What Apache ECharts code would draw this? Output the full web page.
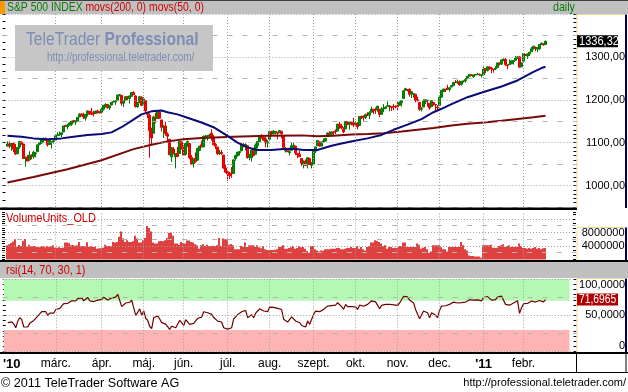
<!DOCTYPE html>
<html>
<head>
<meta charset="utf-8">
<script src="https://cdn.jsdelivr.net/npm/echarts@6.0.0/dist/echarts.min.js"></script>
<style>
html,body{margin:0;padding:0;background:#fff;overflow:hidden}
#chart{width:628px;height:392px}
</style>
</head>
<body>
<div id="chart"></div>
<script>
// ---------------- DATA ----------------
// daily candles [open, close, low, high], 25 Jan 2010 .. 16 Feb 2011
const candles = [
[1092,1097,1091,1103],[1097,1092,1087,1103],[1092,1098,1081,1099],[1098,1085,1078,1100],[1087,1074,1071,1097],
[1074,1089,1074,1090],[1090,1103,1086,1104],[1101,1097,1095,1103],[1097,1063,1063,1097],[1064,1066,1044,1067],
[1066,1057,1056,1071],[1060,1071,1058,1080],[1069,1068,1061,1073],[1067,1078,1063,1081],[1075,1076,1066,1078],
[1079,1095,1079,1095],[1096,1100,1094,1100],[1099,1107,1097,1108],[1105,1109,1100,1112],[1110,1108,1104,1112],
[1107,1095,1091,1108],[1096,1105,1095,1107],[1101,1103,1086,1103],[1103,1104,1098,1108],
[1106,1116,1106,1116],[1117,1118,1115,1124],[1118,1119,1116,1126],[1119,1123,1113,1123],[1125,1139,1125,1139],
[1140,1139,1137,1142],[1137,1140,1131,1144],[1141,1146,1140,1148],[1143,1150,1139,1150],[1151,1150,1146,1153],
[1148,1151,1141,1151],[1151,1159,1148,1160],[1160,1166,1160,1169],[1167,1166,1161,1168],[1166,1160,1155,1170],
[1157,1166,1151,1167],[1166,1174,1161,1175],[1173,1168,1165,1174],[1170,1166,1165,1181],[1168,1167,1161,1174],
[1168,1173,1167,1175],[1174,1173,1168,1177],[1172,1169,1169,1174],
[1171,1178,1170,1181],[1178,1187,1175,1188],[1186,1189,1182,1192],[1189,1182,1179,1190],[1181,1186,1176,1188],
[1188,1194,1187,1194],[1195,1196,1194,1199],[1195,1197,1188,1199],[1199,1211,1199,1211],[1210,1212,1208,1213],
[1210,1192,1186,1211],[1192,1198,1183,1198],[1199,1207,1199,1208],[1207,1206,1199,1208],[1203,1209,1191,1210],
[1208,1217,1207,1217],[1217,1212,1211,1220],[1209,1184,1182,1211],[1184,1191,1181,1195],[1193,1207,1193,1209],
[1206,1187,1186,1208],
[1188,1202,1188,1206],[1198,1174,1168,1198],[1170,1166,1157,1172],[1164,1128,1065,1168],[1127,1111,1095,1135],
[1122,1160,1122,1163],[1157,1156,1145,1170],[1156,1172,1156,1172],[1171,1157,1156,1174],[1153,1136,1126,1153],
[1136,1137,1111,1141],[1139,1121,1116,1149],[1120,1115,1100,1124],[1108,1072,1071,1108],[1067,1088,1055,1090],
[1085,1074,1073,1090],[1067,1074,1040,1075],[1075,1068,1066,1090],[1075,1103,1075,1104],[1102,1089,1084,1102],
[1087,1071,1069,1094],[1073,1098,1070,1098],[1098,1103,1090,1105],[1098,1065,1061,1098],[1066,1050,1050,1071],
[1051,1062,1042,1063],[1063,1056,1053,1077],[1059,1087,1059,1087],[1082,1092,1080,1092],[1095,1090,1089,1105],
[1090,1115,1090,1116],[1113,1115,1108,1118],[1115,1116,1105,1118],[1116,1118,1113,1121],[1122,1113,1105,1131],
[1113,1095,1094,1118],[1096,1092,1085,1099],[1090,1074,1071,1090],[1075,1077,1071,1083],[1077,1075,1071,1083],
[1071,1041,1039,1071],[1041,1031,1029,1049],
[1032,1027,1011,1034],[1028,1023,1015,1032],[1029,1028,1018,1043],[1028,1060,1027,1061],[1063,1070,1058,1072],
[1070,1078,1067,1078],[1077,1079,1070,1081],[1081,1095,1081,1099],[1096,1095,1089,1099],[1094,1096,1082,1098],
[1093,1065,1063,1093],[1066,1071,1059,1074],[1065,1083,1056,1084],[1084,1070,1068,1088],[1073,1094,1073,1098],
[1093,1103,1087,1103],[1103,1115,1101,1115],[1117,1114,1109,1120],[1112,1106,1104,1114],[1109,1102,1089,1115],
[1099,1102,1088,1106],
[1108,1126,1108,1128],[1126,1120,1116,1126],[1121,1127,1119,1129],[1124,1126,1119,1126],[1124,1122,1108,1124],
[1123,1128,1123,1130],[1126,1121,1110,1128],[1116,1089,1089,1116],[1081,1084,1077,1090],[1082,1079,1078,1086],
[1077,1079,1070,1082],[1082,1093,1082,1101],[1093,1094,1085,1100],[1092,1076,1071,1093],[1075,1072,1064,1075],
[1073,1067,1067,1081],[1063,1052,1046,1063],[1049,1055,1040,1059],[1057,1047,1046,1061],[1049,1065,1040,1066],
[1063,1049,1049,1065],[1047,1049,1040,1055],
[1050,1080,1050,1082],[1080,1090,1076,1090],[1093,1105,1093,1105],[1102,1092,1091,1102],[1092,1099,1092,1103],
[1102,1104,1101,1110],[1104,1110,1102,1111],[1114,1122,1114,1124],[1122,1121,1115,1127],[1119,1125,1115,1126],
[1125,1124,1118,1126],[1127,1126,1120,1131],[1127,1143,1127,1144],[1143,1140,1132,1149],[1139,1134,1131,1144],
[1131,1125,1122,1136],[1132,1149,1132,1149],[1149,1142,1142,1150],[1143,1148,1130,1150],[1147,1145,1140,1149],
[1146,1141,1136,1158],
[1144,1146,1138,1150],[1145,1137,1131,1148],[1140,1161,1140,1162],[1161,1160,1155,1163],[1162,1158,1151,1163],
[1159,1165,1155,1168],[1166,1165,1162,1171],[1164,1170,1155,1173],[1171,1178,1171,1184],[1178,1174,1167,1178],
[1177,1176,1167,1182],[1177,1185,1172,1186],[1178,1166,1160,1178],[1166,1178,1166,1183],[1179,1180,1171,1190],
[1180,1183,1178,1184],[1185,1186,1184,1196],[1184,1186,1173,1188],[1184,1182,1174,1185],[1185,1184,1176,1190],
[1184,1183,1180,1187],
[1186,1184,1175,1196],[1187,1194,1187,1196],[1193,1198,1184,1199],[1203,1221,1203,1222],[1222,1226,1221,1228],
[1224,1223,1219,1225],[1224,1213,1207,1227],[1214,1219,1204,1219],[1213,1214,1205,1215],[1213,1199,1194,1214],
[1200,1198,1196,1207],[1194,1178,1174,1194],[1178,1179,1173,1183],[1183,1197,1183,1201],[1196,1200,1190,1200],
[1199,1198,1184,1199],[1192,1181,1177,1192],[1184,1198,1184,1198],[1194,1189,1186,1194],[1189,1188,1174,1190],
[1183,1181,1174,1188],
[1187,1206,1187,1208],[1206,1222,1206,1222],[1219,1225,1218,1226],[1224,1223,1218,1226],[1227,1224,1223,1235],
[1224,1228,1219,1229],[1230,1233,1229,1234],[1233,1240,1232,1241],[1241,1240,1240,1246],[1241,1242,1237,1247],
[1241,1235,1233,1245],[1236,1243,1233,1244],[1243,1244,1240,1245],[1245,1247,1240,1251],[1249,1255,1249,1255],
[1255,1259,1255,1260],[1258,1257,1255,1259],[1254,1258,1251,1258],[1258,1259,1257,1260],[1259,1260,1259,1263],
[1259,1258,1256,1261],[1257,1258,1252,1260],
[1258,1272,1258,1277],[1273,1270,1262,1274],[1268,1277,1266,1277],[1276,1274,1270,1278],[1274,1272,1262,1277],
[1271,1270,1263,1272],[1272,1274,1269,1278],[1275,1286,1275,1286],[1286,1284,1280,1287],[1283,1293,1281,1293],
[1293,1295,1290,1296],[1294,1282,1279,1297],[1281,1280,1271,1282],[1282,1283,1282,1294],[1284,1291,1283,1291],
[1289,1291,1282,1292],[1292,1297,1291,1302],[1297,1300,1295,1301],[1300,1276,1276,1302],[1277,1286,1276,1287],
[1290,1308,1290,1308],[1305,1304,1302,1307],[1302,1307,1295,1308],[1307,1311,1302,1311],[1312,1319,1312,1323],
[1319,1325,1317,1325],[1322,1321,1313,1324],[1318,1322,1311,1322],[1319,1329,1316,1330],[1329,1332,1328,1333],
[1330,1328,1326,1331],[1329,1336.32,1328,1338]
];
// volume, millions of units, one value per trading day
const volumes = [
4.2,4.5,4.9,5.3,6.0,3.8,4.3,4.0,5.5,6.1,3.8,4.4,3.9,4.0,4.0,3.7,3.6,3.8,3.9,3.6,4.0,3.8,3.9,4.2,
3.5,3.5,3.6,3.4,3.5,5.0,5.0,4.8,4.2,4.3,4.1,4.2,5.2,4.0,4.0,3.9,5.1,3.8,3.9,3.7,3.8,3.2,3.3,
3.3,3.5,4.4,4.0,4.0,3.9,5.2,5.0,5.2,6.7,8.3,6.3,5.2,5.7,5.2,5.2,5.4,7.0,6.2,5.0,5.0,
5.7,6.4,9.9,9.3,8.3,5.0,4.7,4.7,5.4,5.5,5.4,5.7,6.4,7.9,7.9,7.0,4.7,4.7,4.4,5.2,
4.9,4.7,5.6,5.6,5.2,5.0,4.5,4.2,3.2,4.2,4.5,4.0,4.4,4.0,4.0,4.1,4.0,4.2,6.4,4.0,6.2,6.0,
6.0,4.4,4.6,4.2,3.0,3.0,3.0,4.0,3.7,5.0,3.7,4.2,4.2,4.2,3.7,4.2,3.6,3.3,4.0,3.0,2.8,
2.8,2.8,2.8,2.9,3.0,3.7,3.7,4.2,3.2,3.2,3.4,3.6,4.0,3.2,3.4,4.0,3.6,3.7,3.2,2.5,2.0,4.0,
4.0,3.0,2.7,2.4,2.7,2.6,3.0,3.0,3.0,3.2,3.2,3.2,3.4,3.4,3.0,3.0,3.2,3.4,3.4,3.7,3.4,
3.4,4.0,3.2,3.7,3.0,2.7,3.7,4.0,5.0,5.0,5.7,5.5,5.2,4.7,4.0,4.2,3.2,3.7,3.7,3.4,3.5,
3.4,4.0,4.0,5.0,5.0,3.7,3.7,3.7,3.8,3.7,4.7,4.4,3.2,3.5,3.7,3.0,2.0,2.4,4.2,4.2,4.2,
4.2,3.6,3.0,3.0,2.4,3.7,3.7,3.7,3.7,3.7,3.7,5.2,4.2,3.0,2.7,1.2,1.0,1.0,0.9,0.9,0.9,0.5,
4.2,4.3,4.2,4.2,4.4,3.5,3.4,3.5,4.0,4.2,4.5,3.7,4.0,4.2,3.7,3.7,3.7,3.8,4.7,4.0,
3.4,3.4,3.2,3.4,3.2,3.4,3.7,3.2,3.4,3.0,3.3,3.4
];
// rsi(14), one value per trading day
const rsiValues = [
40,38.5,41,38,33,42,47,44,34,35,
34,39,38,43,42,49,52,55,56,55,
50,53,52,53,58,59,59.5,61,66,66,
66.5,68,70,69.5,70,73,75,74,70,72,
74.5,70,68.5,69,71,71,69,72,75,75.5,
71,72,74,74.5,75,79,79,62,64,67,
67,68,71,69,50,54,59,50,56,46,
43,35,31.7,47,46,49,45,40,40,38,
37,30.8,35,33,33,32,43,40,36,44,
45,37.6,35,39,37,46,48,47.5,55,54.5,
53.6,54,51.4,47,45,42,41.5,40.8,33,31.7,
31,30.5,33,45,48,51,51.4,55,55,56.9,
46.8,48.2,51,46.8,53,56,59,58,56,55,
55,61.4,59,61,60.5,59.6,61,58,44.5,42,
40.8,41,48,49,42.2,40.5,39.9,36,37,34,
42.2,37.6,38,51.4,55.9,58.2,55,57,58.2,60,
62.8,62.5,63.5,63,64,67.4,65,62,58.2,65.1,
62,63.5,62,60.5,61.5,58.2,64,63.5,62.5,65.1,
65.1,66.5,70,68.3,68.5,71,59.1,63.7,64.5,65.1,
65.5,65.3,64,64.5,63.7,63.7,67,69.7,76,77.4,
75.6,71,70.5,67,58.2,55.5,45.4,46,55.9,55,
53.6,46.8,53.6,51,50,46.8,57,62.8,63.7,63.2,
63.5,65.1,66.5,68.3,68.3,67,65.1,67.4,68,68.3,
70.6,71.5,70.6,71,71,71.3,70.2,70,74.5,73.5,
75.7,74.3,71,70.5,71.5,75,73.5,76.5,77.4,65.1,
63,64,66.5,67,69.7,70.2,52.7,60.5,66,65.1,
66.3,67.4,69.7,70.5,68.3,67.4,70.5,71,68.5,71.6965
];
// moving averages: [trading-day index, value]
const ma50Points = [[0,1116],[7,1114],[13,1110],[20,1108],[27,1110],[33,1114],[40,1118],[47,1120],[52,1124],[57,1136],[62,1151],[67,1166],[72,1173],[77,1175],[80,1171],[85,1166],[90,1158],[97,1147],[103,1136],[110,1116],[115,1100],[120,1089],[125,1083],[132,1083],[138,1085],[143,1086],[148,1083],[152,1083],[155,1083],[157,1086],[162,1093],[167,1098],[173,1104],[180,1110],[187,1118],[193,1130],[200,1142],[207,1155],[213,1171],[217,1179],[222,1190],[230,1206],[238,1218],[247,1231],[255,1245],[263,1265],[267,1274],[269,1277]];
const ma200Points = [[0,1007],[13,1020],[30,1038],[47,1059],[63,1085],[72,1095],[80,1103],[88,1108],[97,1111],[113,1114],[130,1116],[147,1117],[155,1115],[163,1116],[172,1119],[180,1120],[188,1122],[197,1126],[205,1130],[213,1134],[222,1140],[230,1144],[238,1147],[247,1151],[255,1155],[263,1159],[269,1163]];
const lastClose = 1336.32;
const lastRsi = 71.6965;
// month axis
const monthGridDays = [24,47,68,88,110,131,153,174,195,216,238,258];
const xLabelDays = [2,24,47,68,88,110,131,153,174,195,216,238,258];
const xLabelTexts = ["'10","márc.","ápr.","máj.","jún.","júl.","aug.","szept.","okt.","nov.","dec.","'11","febr."];
const yearLabels = ["'10","'11"];
// tick values
const priceMajor = [1000,1100,1200,1300,1400];
const priceMinor = [950,1050,1150,1250,1350];
const priceLabels = [1000,1100,1200,1300];
const volMajor = [4,8,12];
const volMinor = [2,6,10];
const volLabels = [4,8];
const rsiMajor = [0,50,100];
const rsiMinor = [25,75];
const rsiUpper = 70, rsiLower = 30;

// ---------------- CHART ----------------
const FF = "'Liberation Sans'";
const FS = 11;

const PAD_L = 2, PAD_R = 15;
const NCAT = PAD_L + candles.length + PAD_R;
const cats = []; for (let k=0;k<NCAT;k++) cats.push(String(k));
const cx = i => i + PAD_L;

const DOT = '#a0a0a0', DOT_T = [1,2], DASH = '#b4b4b4', DASH_T = [5,10];
const vLines = monthGridDays.map(d => ({xAxis: cx(d), lineStyle:{color:DOT,type:DOT_T,width:1}}));
function hLines(major, minor){
  return major.map(v=>({yAxis:v, lineStyle:{color:DOT,type:DOT_T,width:1}}))
    .concat(minor.map(v=>({yAxis:v, lineStyle:{color:DASH,type:DASH_T,width:1}})));
}
function gridSeries(xi, yi, major, minor, extra){
  return Object.assign({
    type:'line', xAxisIndex:xi, yAxisIndex:yi, data:[], z:1, silent:true,
    markLine:{silent:true, symbol:['none','none'], label:{show:false}, animation:false,
      data: vLines.concat(hLines(major, minor))}
  }, extra||{});
}
const xLabelMap = {}; xLabelDays.forEach((d,k)=>{ xLabelMap[cx(d)] = xLabelTexts[k]; });

function xAxis(gi, showLabels){
  return {type:'category', gridIndex:gi, data:cats, boundaryGap:true,
    axisLine:{show:false}, axisTick:{show:false}, splitLine:{show:false},
    axisLabel: showLabels ? {
      show:true, interval:(idx)=> xLabelMap[idx]!==undefined, margin:6,
      formatter:(v, idx)=>{ const t = xLabelMap[idx]; if(t===undefined) return ''; return yearLabels.includes(t) ? '{b|'+t+'}' : t; },
      color:'#000', fontFamily:FF, fontSize:12,
      rich:{b:{fontWeight:'bold', fontFamily:FF, fontSize:13, color:'#000'}}
    } : {show:false}
  };
}
function rightAxis(gi, min, max, interval, minorSplit, fmt, extraLabel){
  return {type:'value', gridIndex:gi, position:'right', min, max, interval,
    axisLine:{show:false}, splitLine:{show:false},
    axisTick:{show:true, inside:true, length:3, lineStyle:{color:'#000'}},
    minorTick:{show:true, splitNumber:minorSplit, length:3, lineStyle:{color:'#000'}},
    axisLabel:Object.assign({show:true, inside:false, margin:48.5, align:'right', color:'#000',
      fontFamily:FF, fontSize:FS, formatter:fmt}, extraLabel||{})
  };
}
function leftAxis(gi, min, max, interval, minorSplit){
  return {type:'value', gridIndex:gi, position:'left', min, max, interval,
    axisLine:{show:false}, splitLine:{show:false}, axisLabel:{show:false},
    axisTick:{show:true, inside:true, length:3, lineStyle:{color:'#000'}},
    minorTick:{show:true, splitNumber:minorSplit, length:3, lineStyle:{color:'#000'}}
  };
}
const fmtPrice = v => priceLabels.includes(v) ? v.toFixed(2).replace('.', ',') : '';
const fmtVol = v => volLabels.includes(v) ? String(v*1000000) : '';
const fmtRsi = v => v===0 ? '0' : v.toFixed(4).replace('.', ',');

const candleData = candles.map((d,i)=>[cx(i), d[0], d[1], d[2], d[3]]);
const volData = volumes.map((v,i)=>[cx(i), v]);
const rsiData = rsiValues.map((v,i)=>[cx(i), v]);
const ma50Data = ma50Points.map(p=>[cx(p[0]), p[1]]);
const ma200Data = ma200Points.map(p=>[cx(p[0]), p[1]]);

const chart = echarts.init(document.getElementById('chart'), null, {renderer:'canvas'});
const W = 628;
const GL = 2.5;
chart.setOption({
  animation:false,
  backgroundColor:'#ffffff',
  textStyle:{fontFamily:FF},
  grid:[
    {left:GL, top:14, width:574, height:193},
    {left:2, top:212.2, width:574, height:47.3},
    {left:GL, top:279, width:574, height:72.7}
  ],
  xAxis:[xAxis(0,false), xAxis(1,false), xAxis(2,true)],
  yAxis:[
    rightAxis(0, 950, 1400, 50, 5, fmtPrice),
    leftAxis(0, 950, 1400, 50, 3),
    rightAxis(1, 0, 14, 4, 3, fmtVol),
    leftAxis(1, 0, 14, 2, 3),
    rightAxis(2, 0, 100, 50, 7, fmtRsi, {verticalAlignMaxLabel:'top', verticalAlignMinLabel:'bottom'}),
    leftAxis(2, 0, 100, 50, 7)
  ],
  series:[
    gridSeries(0, 0, priceMajor, priceMinor),
    {type:'candlestick', xAxisIndex:0, yAxisIndex:0, data:candleData, z:3,
      encode:{x:0, y:[1,2,3,4]}, barWidth:2,
      itemStyle:{color:'#009000', color0:'#ff0000', borderColor:'#007800', borderColor0:'#e00000', borderWidth:1}
    },
    {type:'line', xAxisIndex:0, yAxisIndex:0, data:ma200Data, z:4, symbol:'none',
      lineStyle:{color:'#780a0a', width:2}},
    {type:'line', xAxisIndex:0, yAxisIndex:0, data:ma50Data, z:5, symbol:'none',
      lineStyle:{color:'#0a0a78', width:2}},
    gridSeries(1, 2, volMajor, volMinor),
    {type:'bar', xAxisIndex:1, yAxisIndex:2, data:volData, barWidth:1.5, z:3, large:false,
      itemStyle:{color:'#d40000', borderWidth:0, opacity:1}},
    gridSeries(2, 4, rsiMajor, rsiMinor, {
      z:0,
      markArea:{silent:true, animation:false, data:[
        [{xAxis:0, yAxis:rsiUpper, itemStyle:{color:'#b4f8b4'}},{xAxis:NCAT-4, yAxis:100}],
        [{xAxis:0, yAxis:0, itemStyle:{color:'#ffb4b4'}},{xAxis:NCAT-4, yAxis:rsiLower}]
      ]}
    }),
    {type:'line', xAxisIndex:2, yAxisIndex:4, data:rsiData, z:4, symbol:'none',
      lineStyle:{color:'#700000', width:1.2}}
  ]
});

// value badges placed through the axes' own scales
const yClose = chart.convertToPixel({yAxisIndex:0}, lastClose);
const yRsi = chart.convertToPixel({yAxisIndex:4}, lastRsi);

function txt(x, y, text, fill, size, sx, extra, z){
  return {type:'text', x:x, y:y, scaleX:sx||1, z:z||40,
    style:Object.assign({text:text, fill:fill, fontFamily:FF, fontSize:size, textVerticalAlign:'middle'}, extra||{})};
}
chart.setOption({graphic:[
  // header bar
  {type:'rect', x:0, y:0, shape:{width:W, height:14}, style:{fill:'#c0c0c0'}, z:-1},
  {type:'rect', x:0, y:0, shape:{width:W, height:1}, style:{fill:'#404040'}, z:-1},
  {type:'rect', x:0, y:1, shape:{width:5, height:13}, style:{fill:'#f39c00'}, z:1},
  {type:'text', x:7, y:7.5, scaleX:0.8, z:40, style:{text:'{g|S&P 500 INDEX} {r|movs(200, 0) movs(50, 0)}', textVerticalAlign:'middle',
    rich:{g:{fill:'#0a7a0a', fontFamily:FF, fontSize:13}, r:{fill:'#d00000', fontFamily:FF, fontSize:13}}}},
  txt(553, 7.5, 'daily', '#0a7a0a', 13, 0.82),
  // watermark
  {type:'rect', x:15, y:25, shape:{width:198, height:46}, style:{fill:'#c6c6c6'}, z:20},
  {type:'text', x:26, y:40, scaleX:0.87, z:21, style:{text:'{n|TeleTrader }{b|Professional}', textVerticalAlign:'middle',
    rich:{n:{fill:'#7d8db6', fontFamily:FF, fontSize:18}, b:{fill:'#7d8db6', fontFamily:FF, fontSize:18, fontWeight:'bold'}}}},
  txt(47, 57.5, 'http://professional.teletrader.com/', '#7d8db6', 12, 0.83, {}),
  // panel separators and captions
  {type:'rect', x:0, y:207.5, shape:{width:577, height:2.5}, style:{fill:'#000'}, z:30},
  txt(6, 218, 'VolumeUnits_OLD', '#d00000', 13, 0.84),
  {type:'rect', x:0, y:260, shape:{width:W, height:2}, style:{fill:'#000'}, z:30},
  {type:'rect', x:0, y:262, shape:{width:W, height:16}, style:{fill:'#c0c0c0'}, z:-1},
  txt(6, 270, 'rsi(14, 70, 30, 1)', '#d00000', 13, 0.84),
  {type:'rect', x:0, y:352, shape:{width:W, height:2}, style:{fill:'#000'}, z:30},
  {type:'rect', x:0, y:372, shape:{width:W, height:1}, style:{fill:'#000'}, z:30},
  // right axis boxes
  {type:'polyline', shape:{points:[[577,208],[577,14.5],[625,14.5]]}, style:{stroke:'#f0dc96', lineWidth:1, fill:null}, z:31},
  {type:'polyline', shape:{points:[[626,14.5],[626,208]]}, style:{stroke:'#00005a', lineWidth:2, fill:null}, z:31},
  {type:'polyline', shape:{points:[[577,260],[577,227.5],[625,227.5]]}, style:{stroke:'#f0dc96', lineWidth:1, fill:null}, z:31},
  {type:'polyline', shape:{points:[[626,227.5],[626,260]]}, style:{stroke:'#00005a', lineWidth:2, fill:null}, z:31},
  {type:'polyline', shape:{points:[[577,352],[577,278.5],[625,278.5]]}, style:{stroke:'#f0dc96', lineWidth:1, fill:null}, z:31},
  {type:'polyline', shape:{points:[[626,278.5],[626,352]]}, style:{stroke:'#00005a', lineWidth:2, fill:null}, z:31},
  {type:'polyline', shape:{points:[[576.5,354],[576.5,372]]}, style:{stroke:'#000', lineWidth:1, fill:null}, z:31},
  {type:'polyline', shape:{points:[[626,354],[626,372]]}, style:{stroke:'#000', lineWidth:1, fill:null}, z:31},
  // last-value badges
  {type:'rect', x:577, y:yClose-6, shape:{width:41, height:12}, style:{fill:'#000'}, z:41},
  txt(579, yClose+0.5, lastClose.toFixed(2).replace('.', ','), '#fff', 12, 0.92, {}, 45),
  {type:'rect', x:577, y:yRsi-6, shape:{width:41, height:12}, style:{fill:'#b00000'}, z:41},
  txt(579, yRsi+0.5, lastRsi.toFixed(4).replace('.', ','), '#fff', 12, 0.86, {}, 45),
  // footer
  txt(1, 383, '© 2011 TeleTrader Software AG', '#000', 13, 0.97),
  txt(626, 383, 'http://professional.teletrader.com/', '#000', 11, 1, {textAlign:'right'})
]});
</script>
</body>
</html>
